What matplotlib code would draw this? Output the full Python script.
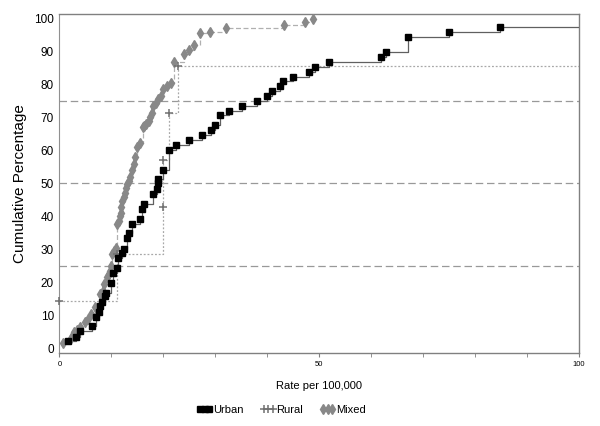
import matplotlib
matplotlib.use('Agg')
import matplotlib.pyplot as plt
from matplotlib.lines import Line2D

plt.rcParams['font.family'] = ['Liberation Sans', 'DejaVu Sans']

# cumulative distribution of rates
urban_x = [1.7, 3.1, 4.0, 6.3, 7.1, 7.6, 7.9, 8.2, 8.7, 9.0, 10.0, 10.3,
           11.1, 11.2, 12.1, 12.4, 13.0, 13.4, 14.0, 15.5, 15.9, 16.2, 18.0,
           18.8, 18.9, 19.0, 20.0, 21.1, 22.4, 25.0, 27.5, 29.2, 29.9, 31.0,
           32.6, 35.1, 38.1, 39.9, 41.0, 42.4, 43.0, 45.0, 48.0, 49.1, 51.9,
           61.8, 62.9, 67.0, 75.0, 84.8, 130.0]
urban_y = [2.2, 3.3, 5.1, 6.6, 9.5, 11.0, 12.8, 13.9, 15.7, 16.6, 19.9, 22.7,
           24.2, 27.3, 28.8, 30.2, 33.3, 35.0, 37.6, 39.1, 42.1, 43.6, 46.7,
           48.2, 50.2, 51.2, 54.0, 60.0, 61.6, 63.1, 64.6, 66.1, 67.6, 70.6,
           72.1, 73.6, 74.9, 76.5, 78.0, 79.5, 81.0, 82.3, 83.8, 85.4, 86.9,
           88.4, 89.8, 94.3, 95.8, 97.3, 100.0]

rural_x = [0.0, 11.0, 20.0, 20.0, 21.1, 22.9, 130.0]
rural_y = [14.3, 28.6, 42.9, 57.1, 71.4, 85.7, 100.0]

mixed_x = [0.6, 2.3, 2.6, 2.9, 3.3, 4.0, 5.0, 5.5, 6.0, 6.9, 7.9, 8.3, 8.5,
           9.2, 9.5, 9.8, 10.0, 10.2, 10.5, 10.8, 11.1, 11.4, 11.6, 11.8,
           11.9, 12.1, 12.4, 12.7, 12.9, 13.1, 13.3, 13.6, 14.0, 14.3, 14.6,
           15.0, 15.6, 16.0, 16.3, 16.6, 17.2, 17.5, 17.9, 18.1, 18.5, 18.9,
           19.5, 20.0, 20.8, 21.4, 22.0, 23.9, 25.0, 26.0, 27.0, 29.0, 32.0,
           43.2, 47.2, 48.9]
mixed_y = [1.5, 3.0, 4.0, 4.8, 5.5, 6.5, 8.0, 8.8, 10.3, 12.4, 16.4, 17.3,
           19.4, 21.5, 22.4, 23.4, 25.0, 28.5, 29.5, 30.5, 37.6, 38.6, 40.0,
           41.1, 42.7, 44.6, 46.0, 47.2, 48.5, 49.7, 50.6, 52.0, 54.0, 55.8,
           58.0, 61.0, 62.4, 67.0, 67.5, 67.9, 68.8, 70.0, 71.5, 73.4, 74.5,
           75.5, 76.4, 78.5, 79.4, 80.6, 86.7, 89.4, 90.4, 92.0, 95.5, 96.0,
           97.2, 98.2, 99.1, 100.0]

ref_levels = [25, 50, 75]
x_major = [0, 50, 100]
x_minor = [10, 20, 30, 40, 60, 70, 80, 90]
y_ticks = list(range(0, 101, 10))

fig = plt.figure(figsize=(6, 4.26), dpi=100)
ax = fig.add_axes([0.099, 0.171, 0.866, 0.797])

for lev in ref_levels:
    ax.axhline(lev, color='#999999', lw=0.9, ls=(0, (6, 3)), zorder=1)

# step lines (post)
ax.plot(mixed_x, mixed_y, drawstyle='steps-post', color='#b0b0b0',
        lw=0.9, ls=(0, (4, 2)), zorder=2)
ax.plot(rural_x, rural_y, drawstyle='steps-post', color='#a8a8a8',
        lw=0.9, ls=(0, (1.5, 1.5)), zorder=2)
ax.plot(urban_x, urban_y, drawstyle='steps-post', color='#606060',
        lw=0.9, zorder=3)

ax.plot(mixed_x, mixed_y, ls='none', marker='d', ms=4.8, color='#888888',
        mec='#888888', clip_on=False, zorder=4)
ax.plot(rural_x, rural_y, ls='none', marker='+', ms=5.5, mew=1.1,
        color='#707070', clip_on=False, zorder=4)
ax.plot(urban_x, urban_y, ls='none', marker='s', ms=4.8, color='black',
        clip_on=False, zorder=5)

ax.set_xlim(0, 100)
ax.set_ylim(-1.5, 101.5)
ax.set_xticks(x_major)
ax.set_xticks(x_minor, minor=True)
ax.set_yticks(y_ticks)
ax.tick_params(axis='x', which='both', labelsize=5.5, length=3,
               color='#808080', pad=3)
ax.tick_params(axis='y', labelsize=8.5, length=0, pad=4)

for side in ['top', 'right', 'bottom']:
    ax.spines[side].set_color('#808080')
    ax.spines[side].set_linewidth(1.0)
ax.spines['left'].set_color('#909090')
ax.spines['left'].set_linestyle((0, (1, 1)))

ax.set_xlabel('Rate per 100,000', fontsize=8, labelpad=9)
ax.set_ylabel('Cumulative Percentage', fontsize=11, labelpad=5)

handles = [
    Line2D([], [], ls='none', marker='s', ms=5, color='black'),
    Line2D([], [], ls='none', marker='+', ms=5.5, mew=1.1, color='#707070'),
    Line2D([], [], ls='none', marker='d', ms=5, color='#888888'),
]
fig.legend(handles, ['Urban', 'Rural', 'Mixed'], loc='center',
           bbox_to_anchor=(0.469, 0.037), ncol=3, numpoints=3,
           handlelength=1.4, handletextpad=0.05, columnspacing=1.5,
           frameon=False, fontsize=8)

fig.savefig('out.png', dpi=100)
